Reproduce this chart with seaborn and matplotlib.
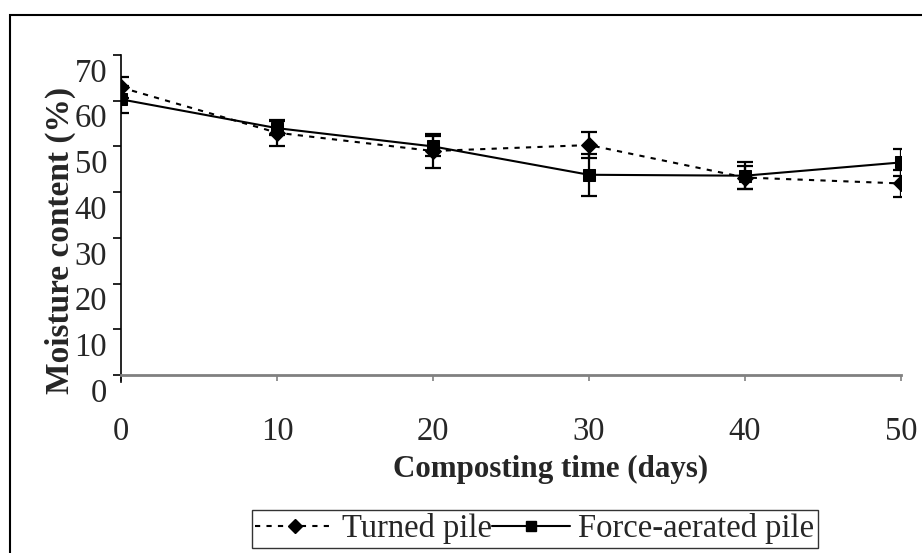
import numpy as np
import pandas as pd
import matplotlib
matplotlib.use('Agg')
import matplotlib.pyplot as plt
import matplotlib.transforms as mtransforms
from matplotlib.patches import Rectangle
import seaborn as sns

# Data
days = [0, 10, 20, 30, 40, 50]
turned = [62.9, 53.0, 49.0, 50.3, 43.2, 41.9]
turned_err = [2.2, 2.8, 3.8, 2.9, 2.6, 3.0]
forced = [60.3, 54.0, 50.0, 43.8, 43.6, 46.5]
forced_err = [3.0, 1.6, 2.2, 4.6, 3.0, 2.9]
series_names = ['Turned pile', 'Force-aerated pile']

df = pd.DataFrame({
    'day': days * 2,
    'moisture': turned + forced,
    'err': turned_err + forced_err,
    'pile': [series_names[0]] * 6 + [series_names[1]] * 6,
})

sns.set_style('white')
plt.rcParams['font.family'] = ['Liberation Serif', 'DejaVu Serif']
FS = 23.5

fig = plt.figure(figsize=(9.22, 5.53), dpi=100)
ax = fig.add_axes([121 / 922, 1 - 375 / 553, 780 / 922, 320 / 553])

sns.lineplot(data=df, x='day', y='moisture', hue='pile', style='pile',
             markers={'Turned pile': 'D', 'Force-aerated pile': 's'},
             dashes={'Turned pile': (2.5, 3), 'Force-aerated pile': ''},
             palette=['black', 'black'], markersize=8.5, linewidth=1.5,
             markeredgecolor='black', ax=ax, legend=False, zorder=3)

for name, sub in df.groupby('pile'):
    ax.errorbar(sub['day'], sub['moisture'], yerr=sub['err'], fmt='none',
                ecolor='black', elinewidth=1.6, capsize=6, capthick=1.6, zorder=2)

ax.set_xlim(0, 50)
ax.set_ylim(0, 70)
ax.set_xticks(days)
ax.set_yticks(range(0, 71, 10))
ax.set_xlabel('')
ax.set_ylabel('')

for s in ['top', 'right']:
    ax.spines[s].set_visible(False)
ax.spines['left'].set_color('black')
ax.spines['left'].set_linewidth(1.2)
ax.spines['left'].set_bounds(-1.6, 70)
ax.spines['bottom'].set_color('#808080')
ax.spines['bottom'].set_linewidth(2)

ax.tick_params(axis='y', direction='out', length=6, width=1.2, color='black',
               labelsize=FS, pad=4, left=True)
ax.tick_params(axis='x', direction='out', length=4, width=1.2, color='#808080',
               labelsize=FS, pad=26, bottom=True)

# y tick labels sit a bit below their ticks in the original
offset = mtransforms.ScaledTranslation(0, -0.15, fig.dpi_scale_trans)
for lbl in ax.get_yticklabels():
    lbl.set_transform(lbl.get_transform() + offset)

fig.text(551 / 922, 1 - 469 / 553, 'Composting time (days)', ha='center', va='center',
         fontsize=22.3, fontweight='bold')
fig.text(60 / 922, 1 - 240 / 553, 'Moisture content (%)', ha='center', va='center',
         rotation=90, fontsize=24, fontweight='bold')

# legend
h1 = plt.Line2D([], [], color='black', lw=1.5, dashes=(2.5, 3), marker='D', markersize=7)
h2 = plt.Line2D([], [], color='black', lw=1.5, marker='s', markersize=7)
leg = fig.legend([h1, h2], series_names, loc='center', bbox_to_anchor=(535 / 922, 1 - 529 / 553),
                 ncol=2, fontsize=FS, frameon=True, fancybox=False, edgecolor='black',
                 borderpad=0.1, handlelength=2.4, handletextpad=0.25, columnspacing=0.0,
                 borderaxespad=0)
leg.get_frame().set_linewidth(1.0)

# outer chart border
fig.patches.append(Rectangle((10 / 922, -0.1), 1.0, 1 - 15 / 553 + 0.1, transform=fig.transFigure,
                             fill=False, edgecolor='black', linewidth=1.5))

fig.savefig('out.png', dpi=100)
